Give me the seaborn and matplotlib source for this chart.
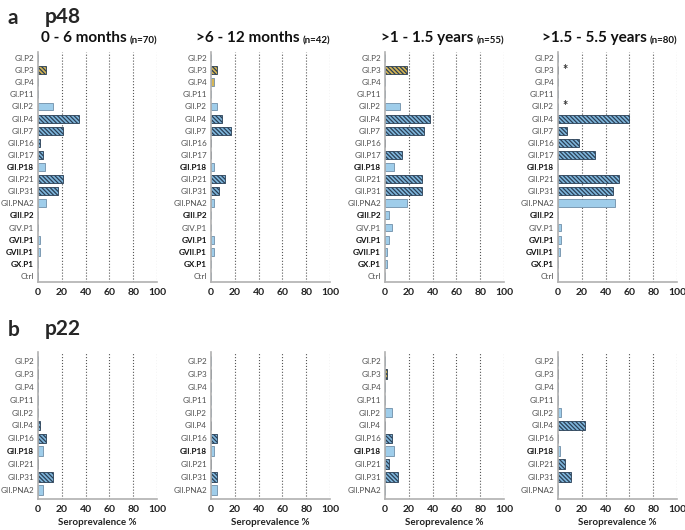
import matplotlib
matplotlib.use('Agg')
import matplotlib.pyplot as plt
import seaborn as sns
import pandas as pd

# genotype labels on the y axes
p48_types = ['GI.P2', 'GI.P3', 'GI.P4', 'GI.P11', 'GII.P2', 'GII.P4', 'GII.P7',
             'GII.P16', 'GII.P17', 'GII.P18', 'GII.P21', 'GII.P31', 'GII.PNA2',
             'GIII.P2', 'GIV.P1', 'GVI.P1', 'GVII.P1', 'GX.P1', 'Ctrl']
p22_types = ['GI.P2', 'GI.P3', 'GI.P4', 'GI.P11', 'GII.P2', 'GII.P4', 'GII.P16',
             'GII.P18', 'GII.P21', 'GII.P31', 'GII.PNA2']

age_groups = ['0 - 6 months', '>6 - 12 months', '>1 - 1.5 years', '>1.5 - 5.5 years']
group_sizes = ['(n=70)', '(n=42)', '(n=55)', '(n=80)']

# seroprevalence %
p48_0_6m = [0, 7.1, 0, 0, 12.9, 34.3, 21.4, 1.4, 4.3, 5.7, 21.4, 17.1, 7.1, 0, 0, 1.4, 1.4, 0, 0]
p48_6_12m = [0, 4.8, 2.4, 0, 4.8, 9.5, 16.7, 0, 0, 2.4, 11.9, 7.1, 2.4, 0, 0, 2.4, 2.4, 0, 0]
p48_1_15y = [0, 18.2, 0, 0, 12.7, 38.2, 32.7, 0, 14.5, 7.3, 30.9, 30.9, 18.2, 3.6, 5.5, 3.6, 1.8, 1.8, 0]
p48_15_55y = [0, 0, 0, 0, 0, 60.0, 7.5, 17.5, 31.3, 0, 51.3, 46.3, 47.5, 0, 2.5, 2.5, 1.3, 0, 0]

p22_0_6m = [0, 0, 0, 0, 0, 1.4, 7.1, 4.3, 0, 12.9, 4.3]
p22_6_12m = [0, 0, 0, 0, 0, 0, 4.8, 2.4, 0, 4.8, 4.8]
p22_1_15y = [0, 1.8, 0, 0, 5.5, 0, 5.5, 7.3, 3.6, 10.9, 0]
p22_15_55y = [0, 0, 0, 0, 2.5, 22.5, 0, 1.3, 6.3, 11.3, 0]

# significance markers in the last p48 panel
star_types = ['GI.P3', 'GII.P2']
star_x = 5.5

hatched_types = ['GI.P3', 'GII.P4', 'GII.P7', 'GII.P16', 'GII.P17', 'GII.P21', 'GII.P31']
bold_types = ['GII.P18', 'GIII.P2', 'GVI.P1', 'GVII.P1', 'GX.P1']

GOLD = '#d6b656'
BLUE = '#9fcdea'
HATCH_BLUE = '#7fb6dc'
HATCH_EDGE = '#2a3f55'
EDGE = '#6f8ea8'

sns.set_style('white')
plt.rcParams['font.family'] = ['Lato', 'DejaVu Sans']
plt.rcParams['hatch.linewidth'] = 0.9


def draw_panel(ax, types, values, bar_width, pad):
    df = pd.DataFrame({'type': types, 'value': values})
    colors = {}
    for t in types:
        if t.startswith('GI.'):
            colors[t] = GOLD
        elif t in hatched_types:
            colors[t] = HATCH_BLUE
        else:
            colors[t] = BLUE
    sns.barplot(data=df, x='value', y='type', hue='type', order=types,
                hue_order=types, palette=colors, orient='h', width=bar_width,
                saturation=1, legend=False, ax=ax)
    for p in ax.patches:
        idx = int(round(p.get_y() + p.get_height() / 2))
        if idx < 0 or idx >= len(types):
            continue
        if types[idx] in hatched_types:
            p.set_hatch('\\' * 8)
            p.set_edgecolor(HATCH_EDGE)
        else:
            p.set_edgecolor(EDGE)
        p.set_linewidth(0.6)

    ax.set_xlim(0, 100)
    ax.set_ylim(len(types) - 1 + pad, -pad)
    ax.set_xticks([0, 20, 40, 60, 80, 100])
    ax.set_ylabel('')
    ax.set_xlabel('')
    ax.grid(False)
    for x in [20, 40, 60, 80, 100]:
        ax.axvline(x, color='#555555', linestyle=':', linewidth=0.8, zorder=0)
    for side in ['top', 'right']:
        ax.spines[side].set_visible(False)
    ax.spines['left'].set_color('#b0b0b0')
    ax.spines['bottom'].set_color('#b0b0b0')
    ax.spines['left'].set_linewidth(1.2)
    ax.spines['bottom'].set_linewidth(1.2)
    ax.tick_params(axis='y', length=2, width=0.6, color='#888888',
                   labelsize=5.9, labelcolor='#505050', pad=0.8)
    ax.tick_params(axis='x', length=0, labelsize=7.5, pad=4)
    for lab in ax.get_xticklabels():
        lab.set_fontweight('bold')
        lab.set_color('#222222')
    for lab in ax.get_yticklabels():
        if lab.get_text() in bold_types:
            lab.set_fontweight('bold')
            lab.set_color('#111111')


fig = plt.figure(figsize=(6.85, 5.3), dpi=100)
W, H = 685, 530
col_left = [38, 211, 385, 558]
col_width = 119

p48_sets = [p48_0_6m, p48_6_12m, p48_1_15y, p48_15_55y]
p22_sets = [p22_0_6m, p22_6_12m, p22_1_15y, p22_15_55y]

top_axes = []
for i in range(4):
    ax = fig.add_axes([col_left[i] / W, (H - 282) / H, col_width / W, 230 / H])
    draw_panel(ax, p48_types, p48_sets[i], 0.65, 0.5)
    t = ax.text(1.0, 1.03, group_sizes[i], transform=ax.transAxes, ha='right',
                va='bottom', fontsize=7, fontweight='bold', color='#111111')
    ax.annotate(age_groups[i], xy=(0, 0), xycoords=t, xytext=(-2, 0),
                textcoords='offset points', ha='right', va='bottom',
                fontsize=11, fontweight='bold', color='#111111')
    top_axes.append(ax)

for t in star_types:
    top_axes[3].text(star_x, p48_types.index(t), '*', ha='center', va='center',
                     fontsize=9, fontweight='bold', color='#333333')

for i in range(4):
    ax = fig.add_axes([col_left[i] / W, (H - 499) / H, col_width / W, 147 / H])
    draw_panel(ax, p22_types, p22_sets[i], 0.75, 0.7)
    ax.set_xlabel('Seroprevalence %', fontsize=7, fontweight='bold',
                  color='#222222', labelpad=3)

fig.text(8 / W, 1 - 18 / H, 'a', fontsize=15, fontweight='bold', va='center')
fig.text(45 / W, 1 - 17 / H, 'p48', fontsize=15, fontweight='bold', va='center')
fig.text(8 / W, 1 - 330 / H, 'b', fontsize=15, fontweight='bold', va='center')
fig.text(45 / W, 1 - 329 / H, 'p22', fontsize=15, fontweight='bold', va='center')

fig.savefig('out.png', dpi=100)
